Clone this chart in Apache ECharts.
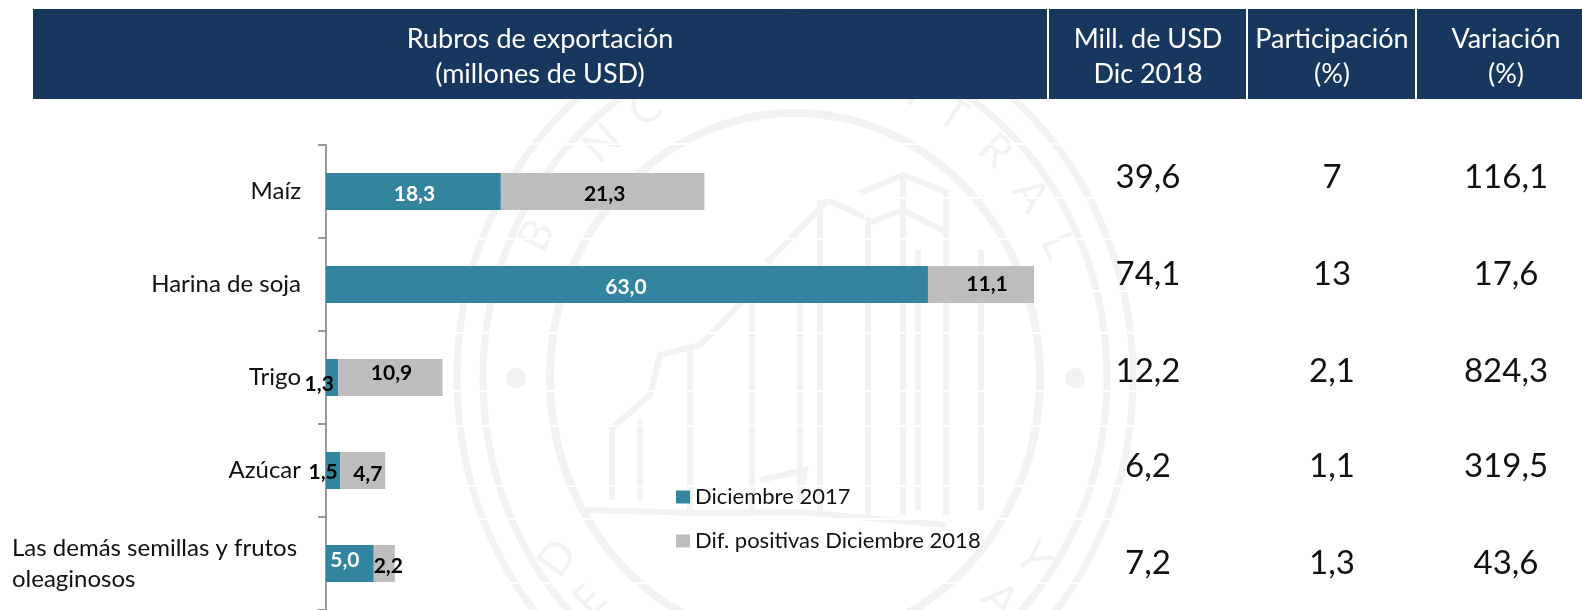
<!DOCTYPE html>
<html><head><meta charset="utf-8">
<style>html,body{margin:0;padding:0;background:#fff}#c{width:1582px;height:610px}</style>
<script src="https://cdn.jsdelivr.net/npm/echarts@6/dist/echarts.min.js"></script>
</head><body><div id="c"></div>
<script>
const categories = ['Maíz','Harina de soja','Trigo','Azúcar','Las demás semillas y frutos\noleaginosos'];
const dic2017 = [18.3,63.0,1.3,1.5,5.0];
const difPositivas = [21.3,11.1,10.9,4.7,2.2];
const millUSD = ['39,6','74,1','12,2','6,2','7,2'];
const participacion = ['7','13','2,1','1,1','1,3'];
const variacion = ['116,1','17,6','824,3','319,5','43,6'];
const headers = [
  {cx:540,  lines:['Rubros de exportación','(millones de USD)']},
  {cx:1148, lines:['Mill. de USD','Dic 2018']},
  {cx:1332, lines:['Participación','(%)']},
  {cx:1506, lines:['Variación','(%)']}
];
const FONT='Lato';
const NAVY='#18375f', TEAL='#33849e', GREY='#bdbdbd', WM='#f0f3f1';
const fmt=v=>v.toFixed(1).replace('.',',');
const off2017=[[1,2],[-1,2],[-13,6],[-10,1],[-5,-4]];
const offDif=[[2,2],[6,-1],[1,-5],[5,3],[4,2]];
const colors2017=['#fff','#fff','#000','#000','#fff'];

const g=[];
// seal watermark
const CX=795,CY=378;
function ring(rx,ry,w){g.push({type:'ellipse',z:-10,silent:true,shape:{cx:CX,cy:CY,rx,ry},style:{fill:'none',stroke:WM,lineWidth:w}});}
ring(338,366,7);ring(312,338,7);ring(245,265,8);
[[516,378],[1075,378]].forEach(p=>g.push({type:'circle',z:-10,silent:true,shape:{cx:p[0],cy:p[1],r:10},style:{fill:WM}}));
[
 [[860,193],[903,175],[948,193]],
 [[869,223],[903,210],[946,232]],
 [[767,263],[828,200],[864,217]],
 [[820,200],[820,515]],[[868,217],[868,515]],[[903,175],[903,515]],[[946,195],[946,515]],
 [[918,250],[918,510]],[[981,250],[981,510]],
 [[752,300],[752,515]],[[800,300],[800,500]],[[800,500],[805,470],[760,480]],
 [[610,430],[650,395],[660,355],[700,345],[725,320],[770,270]],
 [[612,430],[612,500]],[[640,420],[640,500]],[[690,350],[690,510]],
 [[585,510],[700,513],[800,512],[946,525]]
].forEach(p=>g.push({type:'polyline',z:-10,silent:true,shape:{points:p},style:{fill:'none',stroke:WM,lineWidth:6}}));
function arcText(txt,a0,a1,flip){
  const n=txt.length;
  for(let i=0;i<n;i++){
    const a=(a0+(a1-a0)*i/(n-1))*Math.PI/180;
    const x=CX+290*Math.sin(a),y=CY-314*Math.cos(a);
    g.push({type:'text',z:-10,silent:true,x,y,rotation:flip?Math.PI+a:-a,
      style:{text:txt[i],font:'44px '+FONT,fill:WM,textAlign:'center',textVerticalAlign:'middle'}});
  }
}
arcText('BANCO CENTRAL',-63,65,false);
arcText('DEL PARAGUAY',-125,-235,true);
// faint white scan stripes across the seal
[143,197,238,290,332,390,425,485,518,582].forEach(y=>g.push({type:'rect',z:-9,silent:true,shape:{x:450,y:y,width:690,height:2},style:{fill:'#fff'}}));
// header band
g.push({type:'rect',z:5,silent:true,shape:{x:33,y:9,width:1549,height:90},style:{fill:NAVY}});
[1048,1247,1416].forEach(x=>g.push({type:'rect',z:6,silent:true,shape:{x:x-1,y:9,width:2,height:90},style:{fill:'#fff'}}));
headers.forEach(h=>h.lines.forEach((t,i)=>g.push({type:'text',z:7,silent:true,x:h.cx,y:39+35*i,
  style:{text:t,font:'27px '+FONT,fill:'#fff',textAlign:'center',textVerticalAlign:'middle'}})));
// table columns
const rowY=[177,274,371,466,563];
[[1148,millUSD],[1332,participacion],[1506,variacion]].forEach(c=>c[1].forEach((t,i)=>g.push({type:'text',z:7,silent:true,x:c[0],y:rowY[i],
  style:{text:t,font:'33px '+FONT,fill:'#111',textAlign:'center',textVerticalAlign:'middle'}})));

const chart=echarts.init(document.getElementById('c'),null,{renderer:'canvas'});
chart.setOption({
  animation:false,
  backgroundColor:'#fff',
  textStyle:{fontFamily:FONT},
  graphic:{elements:g},
  grid:{left:326,top:145,width:764.4,height:469,containLabel:false},
  legend:{left:676,top:486,padding:0,orient:'vertical',itemWidth:14,itemHeight:13,itemGap:22,icon:'rect',
    selectedMode:false,
    textStyle:{fontFamily:FONT,fontSize:22,color:'#111',lineHeight:13,padding:[0,0,0,0]}},
  xAxis:{type:'value',min:0,max:80,show:false},
  yAxis:{type:'category',inverse:true,data:categories,
    axisLine:{lineStyle:{color:'#999',width:2}},
    axisTick:{show:true,length:8,lineStyle:{color:'#999',width:2}},
    axisLabel:{margin:25,color:'#111',fontFamily:FONT,fontSize:24,
      formatter:v=>v.includes('\n')?v.split('\n').map(s=>'{l|'+s+'}').join('\n'):v,
      rich:{l:{width:289,align:'left',lineHeight:31,fontSize:24,fontFamily:FONT,color:'#111'}}}},
  series:[
    {name:'Diciembre 2017',type:'bar',stack:'a',barWidth:37,itemStyle:{color:TEAL},silent:true,
     data:dic2017.map((v,i)=>({value:v,label:{show:true,position:'inside',offset:[off2017[i][0],off2017[i][1]+1],color:colors2017[i],
       fontFamily:FONT,fontWeight:'bold',fontSize:21,formatter:fmt(v)}}))},
    {name:'Dif. positivas Diciembre 2018',type:'bar',stack:'a',barWidth:37,itemStyle:{color:GREY},silent:true,
     data:difPositivas.map((v,i)=>({value:v,label:{show:true,position:'inside',offset:[offDif[i][0],offDif[i][1]+1],color:'#000',
       fontFamily:FONT,fontWeight:'bold',fontSize:21,formatter:fmt(v)}}))}
  ]
});
</script></body></html>
